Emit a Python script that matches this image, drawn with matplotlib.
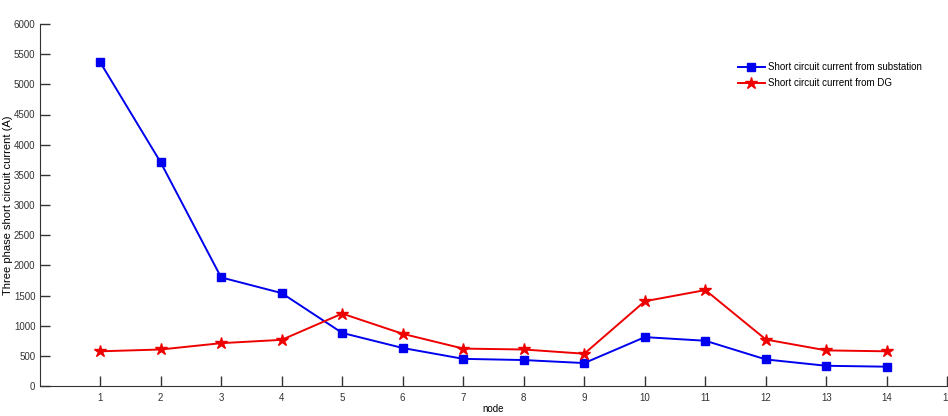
import matplotlib
matplotlib.use("Agg")
import matplotlib.pyplot as plt

nodes = list(range(1, 15))
substation = [5370, 3710, 1800, 1540, 880, 630, 450, 430, 380, 810, 750, 440, 335, 320]
dg = [575, 605, 710, 765, 1200, 865, 620, 605, 535, 1405, 1590, 770, 590, 575]
xticks = list(range(1, 16))
yticks = list(range(0, 6001, 500))

plt.rcParams['font.family'] = ['Liberation Sans', 'DejaVu Sans']
fig = plt.figure(figsize=(9.48, 4.16), dpi=100)
ax = fig.add_axes([39.5/948, 30/416, 908/948, 362/416])

ax.plot(nodes, substation, color='#0000ee', marker='s', markersize=6, linewidth=1.4,
        label='Short circuit current from substation')
ax.plot(nodes, dg, color='#ee0000', marker='*', markersize=9, linewidth=1.4,
        label='Short circuit current from DG')

ax.set_xlim(0, 15)
ax.set_ylim(0, 6000)
ax.set_xticks(xticks)
ax.set_yticks(yticks)
ax.tick_params(direction='in', length=7, width=1, labelsize=7, colors='#333333')
ax.tick_params(axis='x', pad=5)
ax.tick_params(axis='y', pad=3)
for s in ['top', 'right']:
    ax.spines[s].set_visible(False)
for s in ['left', 'bottom']:
    ax.spines[s].set_color('#333333')
ax.set_xlabel('node', fontsize=7)
ax.xaxis.set_label_coords(0.5, -0.05)
ax.set_ylabel('Three phase short circuit current (A)', fontsize=8)
ax.yaxis.set_label_coords(-0.0292, 0.5)
ax.legend(loc='upper left', bbox_to_anchor=(0.7595, 0.918), frameon=False, fontsize=7,
          handlelength=2.8, handletextpad=0.3, labelspacing=0.6)

fig.savefig('out.png', dpi=100)
